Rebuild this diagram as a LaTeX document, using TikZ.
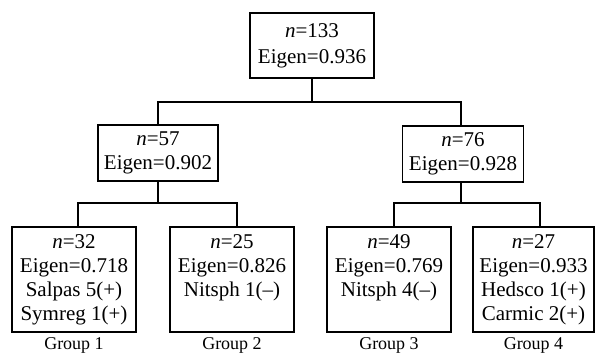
\documentclass[tikz,border=0pt]{standalone}
\usepackage{fontspec}
\setmainfont{Liberation Serif}
\begin{document}
\begin{tikzpicture}[x=1pt,y=-1pt,
  box/.style={draw,line width=1.3pt,rectangle,inner sep=0pt,align=center,
    font=\fontsize{21}{24}\selectfont},
  leafbox/.style={box,minimum width=124pt,minimum height=105pt},
  midbox/.style={box,minimum width=120pt,minimum height=56pt},
  grp/.style={font=\fontsize{18}{20}\selectfont,inner sep=0pt},
  conn/.style={line width=1.3pt}]
\useasboundingbox (0,0) rectangle (595,356);
% root
\node[box,minimum width=124pt,minimum height=65pt,font=\fontsize{21}{26}\selectfont] (root) at (312,45.5)
  {\textit{n}=133\\Eigen=0.936};
% middle
\node[midbox] (m1) at (158,153) {\textit{n}=57\\Eigen=0.902};
\node[midbox,minimum width=121pt] (m2) at (463,154) {\textit{n}=76\\Eigen=0.928};
% leaves
\node[leafbox] (b1) at (74,279.5) {\textit{n}=32\\Eigen=0.718\\Salpas 5(+)\\Symreg 1(+)};
\node[leafbox] (b2) at (232,279.5) {\textit{n}=25\\Eigen=0.826\\Nitsph 1(–)\\\vphantom{(}};
\node[leafbox] (b3) at (389,279.5) {\textit{n}=49\\Eigen=0.769\\Nitsph 4(–)\\\vphantom{(}};
\node[leafbox,minimum width=121pt] (b4) at (533.5,279.5) {\textit{n}=27\\Eigen=0.933\\Hedsco 1(+)\\Carmic 2(+)};
% group labels
\node[grp] (g1) at (74,345) {Group 1};
\node[grp] (g2) at (232,345) {Group 2};
\node[grp] (g3) at (389,345) {Group 3};
\node[grp] (g4) at (533.5,345) {Group 4};
% connectors
\coordinate (j0) at (312,102);
\coordinate (j1) at (158,203);
\coordinate (j2) at (461,203);
\coordinate (t1) at ([xshift=4pt]b1.north);
\coordinate (t2) at ([xshift=5pt]b2.north);
\coordinate (t3) at ([xshift=5pt]b3.north);
\coordinate (t4) at ([xshift=6.5pt]b4.north);
\coordinate (u2) at ([xshift=-2pt]m2.north);
\coordinate (d2) at ([xshift=-2pt]m2.south);
\draw[conn] (root.south) -- (j0);
\draw[conn] (m1.north) |- (j0) -| (u2);
\draw[conn] (m1.south) -- (j1);
\draw[conn] (t1) |- (j1) -| (t2);
\draw[conn] (d2) -- (j2);
\draw[conn] (t3) |- (j2) -| (t4);
\end{tikzpicture}
\end{document}
